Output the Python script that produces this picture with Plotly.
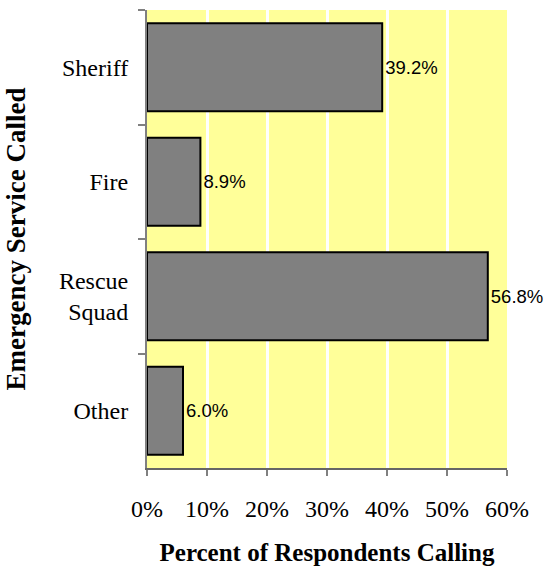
import plotly.graph_objects as go

categories = ["Sheriff", "Fire", "Rescue<br>Squad", "Other"]
values = [39.2, 8.9, 56.8, 6.0]
labels = ["39.2%", "8.9%", "56.8%", "6.0%"]
tick_vals = [0, 10, 20, 30, 40, 50, 60]
tick_text = ["0%", "10%", "20%", "30%", "40%", "50%", "60%"]

fig = go.Figure(go.Bar(
    y=categories, x=values, orientation="h",
    marker=dict(color="#808080", line=dict(color="black", width=2)),
    text=labels, textposition="outside", cliponaxis=False,
    textfont=dict(family="Liberation Sans", size=18.5, color="black"),
))

fig.update_layout(
    width=544, height=571,
    margin=dict(l=147, r=37, t=10, b=103),
    paper_bgcolor="white", plot_bgcolor="#FFFF99",
    bargap=0.23, showlegend=False,
    font=dict(family="Liberation Serif", size=24, color="black"),
    xaxis=dict(
        range=[0, 60], tickvals=tick_vals, ticktext=tick_text,
        showgrid=True, gridcolor="white", gridwidth=3,
        showline=True, linecolor="#666666", linewidth=2,
        ticks="outside", ticklen=6, tickcolor="#808080", tickwidth=2,
        ticklabelstandoff=12,
        zeroline=False,
        title=dict(text="<b>Percent of Respondents Calling</b>", standoff=23,
                   font=dict(family="Liberation Serif", size=25)),
    ),
    yaxis=dict(
        categoryorder="array", categoryarray=categories, autorange="reversed",
        showline=True, linecolor="#808080", linewidth=2,
        ticks="outside", ticklen=7, tickcolor="#808080", tickwidth=2,
        tickson="boundaries", showgrid=False, ticklabelstandoff=12,
        title=dict(text="<b>Emergency Service Called</b>", standoff=25,
                   font=dict(family="Liberation Serif", size=27)),
    ),
)

fig.write_html(
    "out.html",
    config={"displayModeBar": False},
    post_script="document.body.style.margin='0';document.body.style.overflow='hidden';",
)
